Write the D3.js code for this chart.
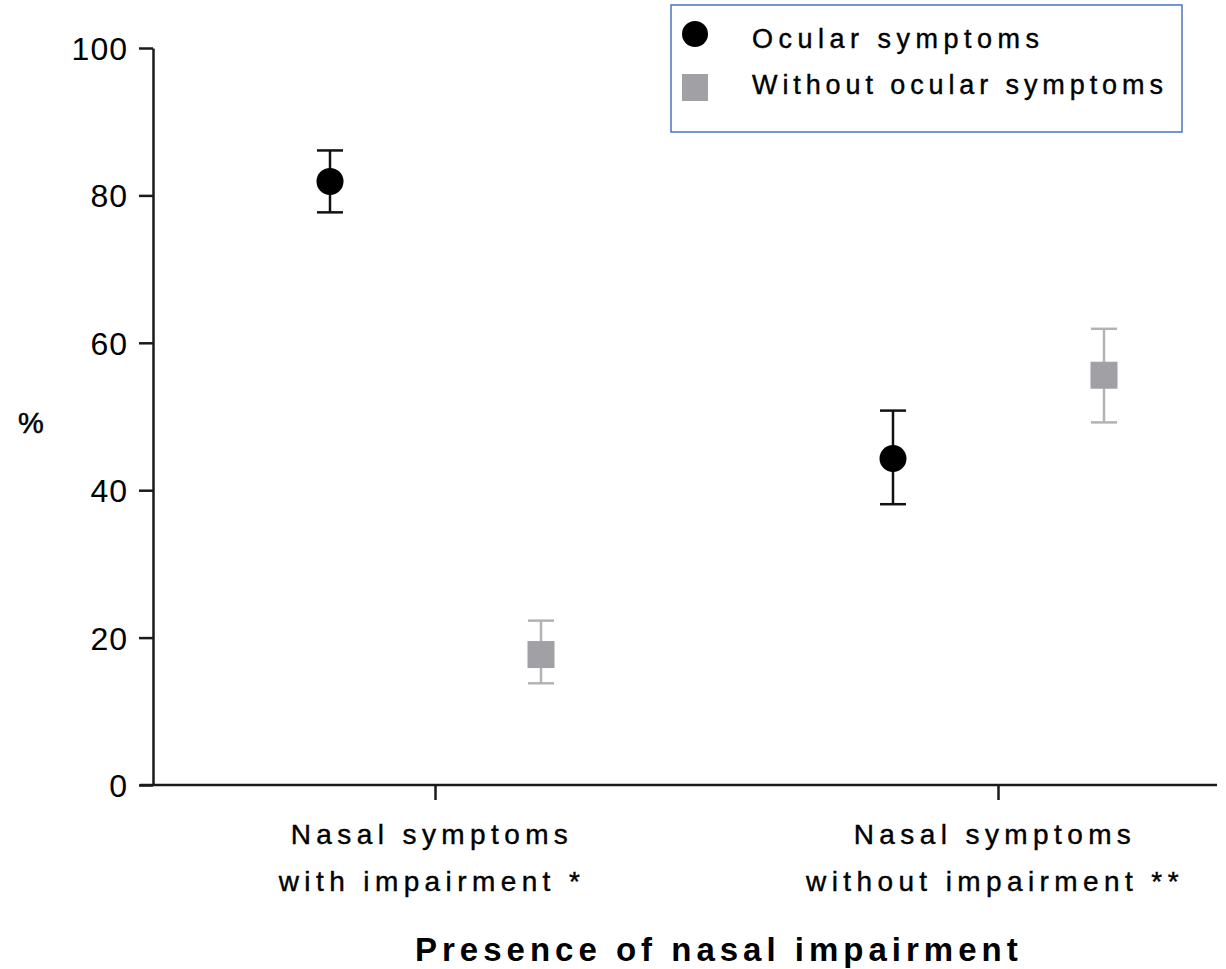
<!DOCTYPE html>
<html>
<head>
  <meta charset="UTF-8">
  <style>
    body { margin: 0; background: #fff; }
    svg { display: block; }
    text { font-family: "Liberation Sans", Arial, sans-serif; fill: #000; }
  </style>
  <script src="https://d3js.org/d3.v7.min.js"></script>
</head>
<body>
<div id="chart"></div>
<script>
  // data
  var categories = ["Nasal symptoms|with impairment *", "Nasal symptoms|without impairment **"];
  var series = ["Ocular symptoms", "Without ocular symptoms"];
  var ocularMean = [81.9, 44.3];
  var ocularLow = [77.7, 38.1];
  var ocularHigh = [86.1, 50.8];
  var withoutMean = [17.7, 55.6];
  var withoutLow = [13.8, 49.2];
  var withoutHigh = [22.3, 61.9];
  var yTicks = [0, 20, 40, 60, 80, 100];

  var width = 1226, height = 969;
  var margin = {left: 153, right: 1217, top: 48, bottom: 785};

  var svg = d3.select("#chart").append("svg")
    .attr("width", width)
    .attr("height", height);

  var y = d3.scaleLinear().domain([0, 100]).range([margin.bottom, margin.top]);
  var x = d3.scalePoint().domain(categories).range([435, 998]);
  var offset = d3.scalePoint().domain(series).range([-105, 106]);

  // y axis
  var yAxis = svg.append("g")
    .attr("transform", "translate(" + margin.left + ",0)")
    .call(d3.axisLeft(y).tickValues(yTicks).tickSize(14).tickPadding(11).tickSizeOuter(0));
  yAxis.select(".domain").attr("stroke", "#1a1a1a").attr("stroke-width", 2.5);
  yAxis.selectAll(".tick line").attr("stroke", "#1a1a1a").attr("stroke-width", 2.5);
  yAxis.selectAll(".tick text")
    .attr("font-size", 32)
    .attr("font-family", "Liberation Sans, Arial, sans-serif")
    .attr("letter-spacing", "1px")
    .attr("dy", "0.36em")
    .attr("fill", "#000");

  // x axis
  var xAxis = svg.append("g")
    .attr("transform", "translate(0," + margin.bottom + ")")
    .call(d3.axisBottom(x).tickSize(15).tickSizeOuter(0).tickFormat(""));
  xAxis.select(".domain").attr("d", "M" + (margin.left - 13) + ",0H" + margin.right)
    .attr("stroke", "#1a1a1a").attr("stroke-width", 2.5);
  xAxis.selectAll(".tick line").attr("stroke", "#1a1a1a").attr("stroke-width", 2.5);

  // category labels (two lines each)
  var catLabel = svg.selectAll(".cat")
    .data(categories)
    .join("text")
    .attr("class", "cat")
    .attr("text-anchor", "middle")
    .attr("font-size", 28)
    .attr("letter-spacing", "5.4px")
    .attr("stroke", "#000").attr("stroke-width", 0.4);
  catLabel.selectAll("tspan")
    .data(function(d) { return d.split("|").map(function(s) { return {c: d, s: s}; }); })
    .join("tspan")
    .attr("x", function(d) { return x(d.c) - 3; })
    .attr("y", function(d, i) { return 844 + i * 47; })
    .text(function(d) { return d.s; });

  // axis titles
  svg.append("text")
    .attr("x", 31).attr("y", 433)
    .attr("text-anchor", "middle")
    .attr("font-size", 29)
    .attr("stroke", "#000").attr("stroke-width", 0.5)
    .text("%");

  svg.append("text")
    .attr("x", 415).attr("y", 961)
    .attr("font-size", 33)
    .attr("font-weight", "bold")
    .attr("letter-spacing", "5px")
    .text("Presence of nasal impairment");

  // points + error bars
  var rows = [
    {name: series[0], mean: ocularMean, low: ocularLow, high: ocularHigh, fill: "#000", bar: "#111", shape: "circle"},
    {name: series[1], mean: withoutMean, low: withoutLow, high: withoutHigh, fill: "#a0a0a5", bar: "#b3b3b3", shape: "square"}
  ];

  rows.forEach(function(r) {
    var pts = categories.map(function(c, i) {
      return {c: c, m: r.mean[i], lo: r.low[i], hi: r.high[i]};
    });
    var g = svg.append("g");
    var cx = function(d) { return x(d.c) + offset(r.name); };

    g.selectAll(".stem").data(pts).join("line")
      .attr("x1", cx).attr("x2", cx)
      .attr("y1", function(d) { return y(d.hi); })
      .attr("y2", function(d) { return y(d.lo); })
      .attr("stroke", r.bar).attr("stroke-width", 2.5);
    g.selectAll(".capHi").data(pts).join("line")
      .attr("x1", function(d) { return cx(d) - 13; })
      .attr("x2", function(d) { return cx(d) + 13; })
      .attr("y1", function(d) { return y(d.hi); })
      .attr("y2", function(d) { return y(d.hi); })
      .attr("stroke", r.bar).attr("stroke-width", 2.5);
    g.selectAll(".capLo").data(pts).join("line")
      .attr("x1", function(d) { return cx(d) - 13; })
      .attr("x2", function(d) { return cx(d) + 13; })
      .attr("y1", function(d) { return y(d.lo); })
      .attr("y2", function(d) { return y(d.lo); })
      .attr("stroke", r.bar).attr("stroke-width", 2.5);

    if (r.shape == "circle") {
      g.selectAll(".pt").data(pts).join("circle")
        .attr("cx", cx)
        .attr("cy", function(d) { return y(d.m); })
        .attr("r", 13.5)
        .attr("fill", r.fill);
    } else {
      g.selectAll(".pt").data(pts).join("rect")
        .attr("x", function(d) { return cx(d) - 13.5; })
        .attr("y", function(d) { return y(d.m) - 13.5; })
        .attr("width", 27).attr("height", 27)
        .attr("fill", r.fill);
    }
  });

  // legend
  var legend = svg.append("g");
  legend.append("rect")
    .attr("x", 671).attr("y", 5)
    .attr("width", 511).attr("height", 127)
    .attr("fill", "#fff")
    .attr("stroke", "#4a74c4")
    .attr("stroke-width", 1.5);
  legend.append("circle")
    .attr("cx", 695).attr("cy", 34).attr("r", 13)
    .attr("fill", rows[0].fill);
  legend.append("rect")
    .attr("x", 682).attr("y", 74).attr("width", 26).attr("height", 27)
    .attr("fill", rows[1].fill);
  legend.selectAll(".lt").data(series).join("text")
    .attr("x", 752)
    .attr("y", function(d, i) { return 48 + i * 46; })
    .attr("font-size", 27)
    .attr("letter-spacing", function(d, i) { return i == 0 ? "5.5px" : "4.9px"; })
    .attr("stroke", "#000").attr("stroke-width", 0.4)
    .text(function(d) { return d; });
</script>
</body>
</html>
